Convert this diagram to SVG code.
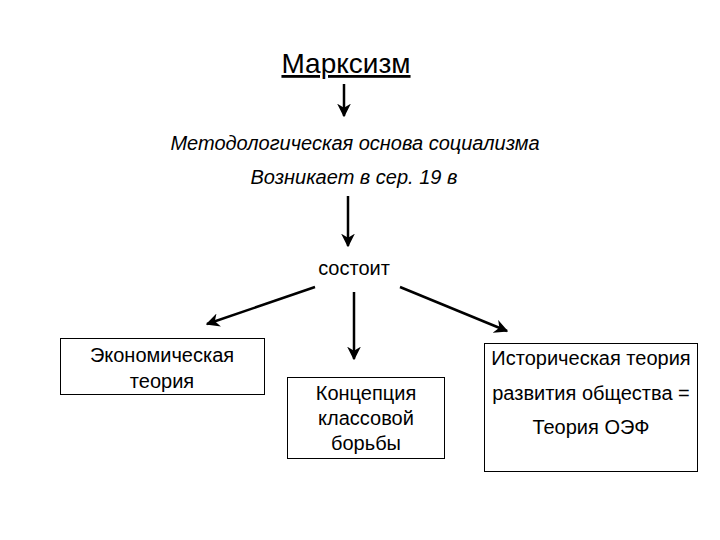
<svg xmlns="http://www.w3.org/2000/svg" width="720" height="540" viewBox="0 0 720 540">
<style>
text{font-family:"Liberation Sans",Arial,sans-serif;fill:#000;text-anchor:middle}
.t{font-size:20px}
.i{font-size:20px;font-style:italic}
.box{fill:#fff;stroke:#000;stroke-width:1}
.c{stroke:#000;stroke-width:2.5;fill:none;marker-end:url(#ah)}
</style>
<defs>
<marker id="ah" viewBox="0 0 10 10" refX="9" refY="5" markerWidth="5.5" markerHeight="5.5" markerUnits="strokeWidth" orient="auto">
<path d="M0,0 L10,5 L0,10 L3,5 Z" fill="#000"/>
</marker>
</defs>
<rect width="720" height="540" fill="#fff"/>
<g id="marxism"><text x="346" y="73" style="font-size:28px;text-decoration:underline">Марксизм</text></g>
<g id="basis"><text class="i" x="355" y="150">Методологическая основа социализма</text>
<text class="i" x="354" y="184">Возникает в сер. 19 в</text></g>
<g id="consists"><text class="t" x="354" y="275">состоит</text></g>
<g id="econ"><rect class="box" x="60.5" y="338.5" width="204" height="56"/>
<text class="t" x="162" y="362">Экономическая</text><text class="t" x="162" y="388">теория</text></g>
<g id="class"><rect class="box" x="287.5" y="377.5" width="157" height="81"/>
<text class="t" x="366" y="400">Концепция</text><text class="t" x="366" y="425">классовой</text><text class="t" x="366" y="450">борьбы</text></g>
<g id="hist"><rect class="box" x="484.5" y="343.5" width="213" height="128"/>
<text class="t" x="591" y="365">Историческая теория</text><text class="t" x="591" y="400">развития общества =</text><text class="t" x="591" y="434">Теория ОЭФ</text></g>
<g id="connectors">
<line class="c" x1="344" y1="84" x2="344" y2="116"/>
<line class="c" x1="348" y1="196" x2="348" y2="246"/>
<line class="c" x1="315" y1="287" x2="207" y2="324"/>
<line class="c" x1="354" y1="292" x2="354" y2="359"/>
<line class="c" x1="400" y1="287" x2="507" y2="331"/>
</g>
</svg>
